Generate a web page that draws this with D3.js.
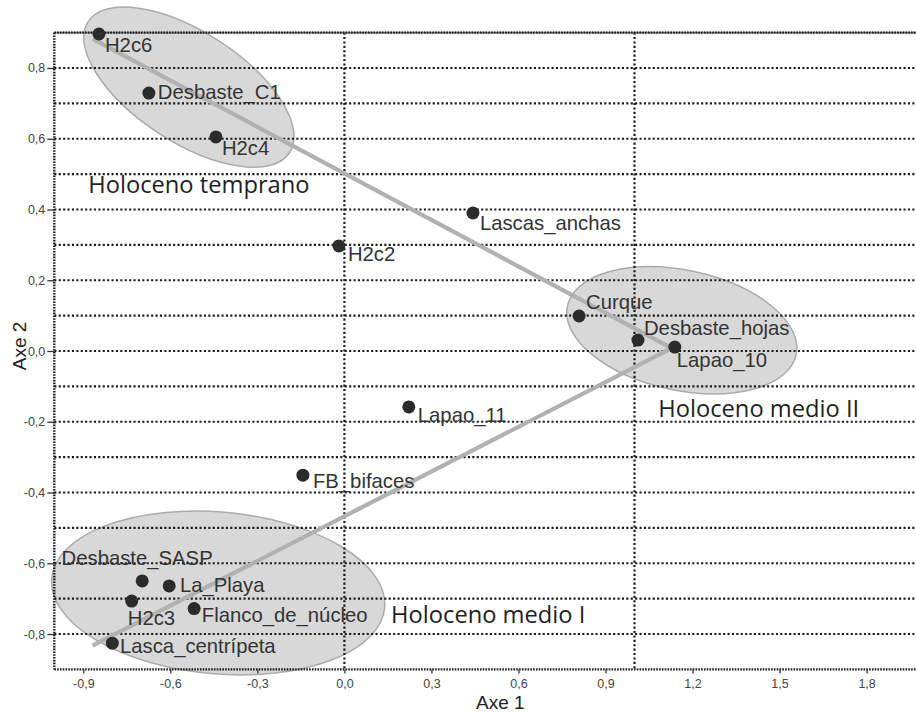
<!DOCTYPE html>
<html>
<head>
<meta charset="utf-8">
<script src="https://cdn.jsdelivr.net/npm/d3@7/dist/d3.min.js"></script>
<style>
  html, body { margin: 0; padding: 0; background: #fff; }
  svg { display: block; }
</style>
</head>
<body>
<svg id="chart" width="916" height="712"></svg>
<script>
// ---- data ----
const names = ["H2c6","Desbaste_C1","H2c4","Lascas_anchas","H2c2","Curque","Desbaste_hojas","Lapao_10","Lapao_11","FB_bifaces","Desbaste_SASP","La_Playa","H2c3","Flanco_de_núcleo","Lasca_centrípeta"];
const axe1 = [-0.846,-0.674,-0.443,0.443,-0.019,0.809,1.012,1.139,0.222,-0.143,-0.697,-0.604,-0.733,-0.518,-0.800];
const axe2 = [0.896,0.729,0.605,0.390,0.297,0.099,0.031,0.011,-0.158,-0.351,-0.650,-0.664,-0.707,-0.728,-0.826];

const xTicks = [-0.9,-0.6,-0.3,0.0,0.3,0.6,0.9,1.2,1.5,1.8];
const yTicks = [-0.8,-0.6,-0.4,-0.2,0.0,0.2,0.4,0.6,0.8];
const yGrid = [-0.8,-0.7,-0.6,-0.5,-0.4,-0.3,-0.2,-0.1,0.0,0.1,0.2,0.3,0.4,0.5,0.6,0.7,0.8];
const xGrid = [0.0, 1.0];

const groupNames = ["Holoceno temprano","Holoceno medio II","Holoceno medio I"];
const groupX = [-0.883, 1.082, 0.161];
const groupY = [0.446, -0.186, -0.768];

// ellipses (centre in axis units, semi-axes in Axe 1 units)
const ellCx = [-0.536, 1.163, -0.435];
const ellCy = [0.746, 0.0585, -0.684];
const ellA = [0.414, 0.403, 0.576];
const ellB = [0.190, 0.207, 0.279];
const ellAngle = [33, 12, 5];

// trend lines
const trendX = [[-0.868, 1.128], [-0.868, 1.128]];
const trendY = [[0.882, 0.008], [-0.833, 0.008]];

// label offsets (px)
const labelDx = [6, 9, 6, 7, 9, 7, 6, 2, 9, 10, -80.6, 10.7, -4, 7.7, 7.7];
const labelDy = [18, 5.5, 18, 16.6, 15, -7, -5, 20, 15, 13, -16, 5.7, 24, 13, 10];

// ---- chart ----
const W = 916, H = 712;
const svg = d3.select("#chart");
const x = d3.scaleLinear().domain([-1, 2]).range([54.3, 924.6]);
const y = d3.scaleLinear().domain([-0.9, 0.9]).range([669.4, 32.6]);
const loc = d3.formatLocale({decimal: ",", thousands: ".", grouping: [3], currency: ["", ""], minus: "-"});
const fmt = loc.format(".1f");

const x0 = x(-1), x1 = W, yTop = y(0.9), yBot = y(-0.9);

// ellipses
const ellG = svg.append("g");
ellCx.forEach((cx, i) => {
  ellG.append("ellipse")
    .attr("cx", x(cx)).attr("cy", y(ellCy[i]))
    .attr("rx", x(ellA[i]) - x(0)).attr("ry", x(ellB[i]) - x(0))
    .attr("transform", `rotate(${ellAngle[i]},${x(cx)},${y(ellCy[i])})`)
    .attr("fill", "#d8d8d8")
    .attr("stroke", "#ababab")
    .attr("stroke-width", 1.5);
});

// grid
const grid = svg.append("g").attr("stroke", "#1a1a1a").attr("stroke-width", 2.2).attr("fill", "none");
grid.selectAll("line.h").data(yGrid).join("line")
  .attr("x1", x0).attr("x2", x1)
  .attr("y1", d => y(d)).attr("y2", d => y(d))
  .attr("stroke-dasharray", "2.1,2.3");
grid.selectAll("line.v").data(xGrid).join("line")
  .attr("x1", d => x(d)).attr("x2", d => x(d))
  .attr("y1", yTop).attr("y2", yBot)
  .attr("stroke-dasharray", "2.1,2.3");
// top frame line (denser dots on grey)
grid.append("line").attr("x1", x0).attr("x2", x1).attr("y1", yTop).attr("y2", yTop)
  .attr("stroke", "#888").attr("stroke-width", 1.6);
grid.append("line").attr("x1", x0).attr("x2", x1).attr("y1", yTop).attr("y2", yTop).attr("stroke-dasharray", "1.6,1.2");

// trend lines
const lineGen = d3.line().x(d => x(d[0])).y(d => y(d[1]));
trendX.forEach((tx, i) => {
  svg.append("path")
    .attr("d", lineGen(tx.map((v, j) => [v, trendY[i][j]])))
    .attr("stroke", "#b1b1b1").attr("stroke-width", 4.2).attr("fill", "none");
});

// axes
const yAxis = d3.axisLeft(y).tickValues(yTicks).tickFormat(fmt).tickSize(7).tickPadding(2);
const gy = svg.append("g").attr("transform", `translate(${x0},0)`).call(yAxis);
const xAxis = d3.axisBottom(x).tickValues(xTicks).tickFormat(fmt).tickSize(4).tickPadding(6);
const gx = svg.append("g").attr("transform", `translate(0,${yBot})`).call(xAxis);
[gx, gy].forEach(g => {
  g.select(".domain").attr("stroke", "#1a1a1a").attr("stroke-width", 2.4).attr("stroke-dasharray", "1.6,1.2");
  g.selectAll(".tick line").attr("stroke", "#333").attr("stroke-width", 1.3);
  g.selectAll(".tick text").attr("fill", "#444").style("font-family", "Liberation Sans, Arial, sans-serif").style("font-size", "12.5px");
});
gx.select(".domain").attr("d", `M${x0},0H${x1}`);
gy.select(".domain").attr("d", `M0,${yTop}V${yBot}`);

// points
svg.append("g").selectAll("circle").data(names).join("circle")
  .attr("cx", (d, i) => x(axe1[i])).attr("cy", (d, i) => y(axe2[i]))
  .attr("r", 6.5).attr("fill", "#2b2b2b");

// point labels
svg.append("g").selectAll("text").data(names).join("text")
  .attr("x", (d, i) => x(axe1[i]) + labelDx[i])
  .attr("y", (d, i) => y(axe2[i]) + labelDy[i])
  .attr("fill", "#333")
  .style("font-family", "Liberation Sans, Arial, sans-serif")
  .style("font-size", "20.3px")
  .text(d => d);

// group labels
svg.append("g").selectAll("text").data(groupNames).join("text")
  .attr("x", (d, i) => x(groupX[i]))
  .attr("y", (d, i) => y(groupY[i]))
  .attr("fill", "#1f1f1f")
  .style("font-family", "Open Sans, sans-serif")
  .style("font-size", "23.7px")
  .text(d => d);

// axis titles
svg.append("text").attr("x", 476).attr("y", 709)
  .attr("fill", "#222").style("font-family", "Liberation Sans, Arial, sans-serif").style("font-size", "19px")
  .text("Axe 1");
svg.append("text").attr("transform", `translate(26,346) rotate(-90)`).attr("text-anchor", "middle")
  .attr("fill", "#222").style("font-family", "Liberation Sans, Arial, sans-serif").style("font-size", "19px")
  .text("Axe 2");
</script>
</body>
</html>
